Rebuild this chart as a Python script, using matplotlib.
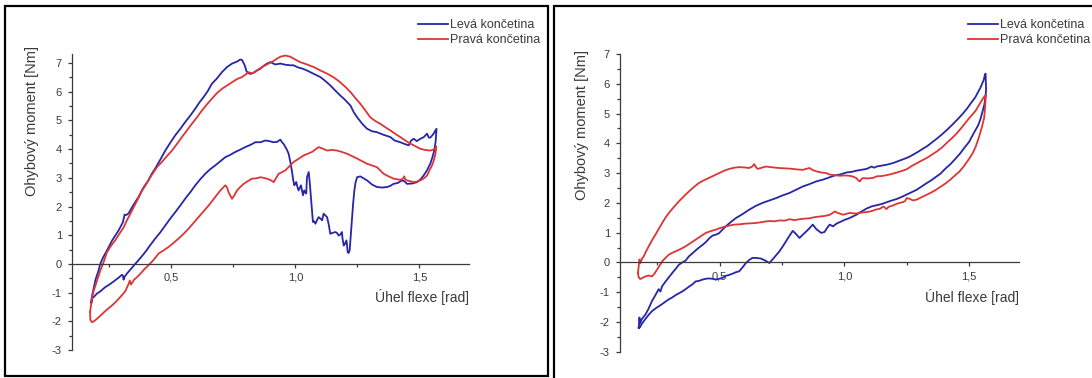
import numpy as np
import matplotlib
matplotlib.use("Agg")
import matplotlib.pyplot as plt
from matplotlib.patches import Rectangle
from matplotlib.ticker import MultipleLocator, FixedLocator, FuncFormatter

plt.rcParams["font.family"] = ["Liberation Sans", "DejaVu Sans"]
plt.rcParams["axes.unicode_minus"] = False

# ---------------------------------------------------------------------------
# Measured hysteresis loops: (flexion angle [rad], bending moment [Nm])
# ---------------------------------------------------------------------------
series_labels = ["Levá končetina", "Pravá končetina"]
x_ticks = [0.5, 1.0, 1.5]
x_minor = [0.25, 0.75, 1.25]

# Panel A - left limb
a_leva = np.array([
    [0.178, -1.35], [0.180, -1.16], [0.194, -0.57], [0.207, -0.23], [0.214, 0.00],
    [0.225, 0.22], [0.241, 0.47], [0.262, 0.82], [0.288, 1.17], [0.305, 1.45],
    [0.312, 1.72], [0.318, 1.70], [0.328, 1.76], [0.345, 2.02], [0.368, 2.33],
    [0.388, 2.66], [0.408, 2.91], [0.420, 3.12], [0.435, 3.32], [0.455, 3.62],
    [0.476, 3.95], [0.496, 4.22], [0.516, 4.48], [0.536, 4.70], [0.556, 4.94],
    [0.576, 5.16], [0.597, 5.41], [0.613, 5.62], [0.630, 5.81], [0.647, 6.02],
    [0.664, 6.28], [0.684, 6.46], [0.704, 6.68], [0.725, 6.86], [0.745, 6.98],
    [0.765, 7.05], [0.778, 7.12], [0.785, 7.11], [0.790, 7.02], [0.796, 6.92],
    [0.803, 6.72], [0.809, 6.65], [0.820, 6.62], [0.832, 6.66], [0.845, 6.74],
    [0.859, 6.80], [0.872, 6.90], [0.886, 6.98], [0.900, 7.03], [0.919, 6.95],
    [0.940, 6.98], [0.960, 6.94], [0.980, 6.92], [0.993, 6.92], [1.010, 6.85],
    [1.030, 6.80], [1.047, 6.74], [1.070, 6.64], [1.101, 6.51], [1.120, 6.38],
    [1.141, 6.22], [1.160, 6.05], [1.181, 5.87], [1.200, 5.72], [1.222, 5.52],
    [1.236, 5.28], [1.249, 5.11], [1.270, 4.88], [1.289, 4.71], [1.310, 4.62],
    [1.329, 4.59], [1.355, 4.50], [1.383, 4.42], [1.400, 4.30], [1.423, 4.24],
    [1.440, 4.18], [1.457, 4.13], [1.467, 4.30], [1.477, 4.36], [1.490, 4.28],
    [1.504, 4.36], [1.518, 4.42], [1.531, 4.54], [1.538, 4.40], [1.544, 4.40],
    [1.556, 4.52], [1.569, 4.71],
    [1.566, 4.30], [1.560, 3.95], [1.552, 3.70], [1.544, 3.49], [1.530, 3.25],
    [1.517, 3.08], [1.505, 2.95], [1.491, 2.85], [1.470, 2.80], [1.450, 2.79],
    [1.440, 2.88], [1.430, 2.91], [1.413, 2.82], [1.396, 2.79], [1.383, 2.72],
    [1.370, 2.68], [1.350, 2.66], [1.329, 2.68], [1.310, 2.76], [1.289, 2.91],
    [1.275, 2.98], [1.262, 3.05], [1.249, 3.02], [1.243, 2.85], [1.238, 2.56],
    [1.233, 2.10], [1.229, 1.63], [1.224, 1.05], [1.219, 0.47], [1.215, 0.38],
    [1.211, 0.41], [1.208, 0.70], [1.206, 0.82], [1.200, 0.70], [1.195, 0.64],
    [1.190, 0.90], [1.188, 1.11], [1.181, 1.02], [1.175, 0.99], [1.168, 1.08],
    [1.161, 1.11], [1.150, 1.08], [1.141, 1.05], [1.134, 1.40], [1.128, 1.63],
    [1.120, 1.70], [1.114, 1.75], [1.108, 1.52], [1.101, 1.58], [1.094, 1.63],
    [1.087, 1.52], [1.081, 1.40], [1.076, 1.48], [1.071, 1.46], [1.067, 1.90],
    [1.063, 2.33], [1.058, 2.85], [1.054, 3.20], [1.050, 3.10], [1.047, 3.02],
    [1.044, 2.45], [1.040, 2.50], [1.036, 2.56], [1.031, 2.39], [1.027, 2.55],
    [1.023, 2.74], [1.018, 2.65], [1.013, 2.56], [1.008, 2.70], [1.004, 2.85],
    [1.000, 2.80], [0.996, 2.74], [0.991, 2.95], [0.987, 3.20], [0.980, 3.55],
    [0.973, 3.84], [0.966, 3.98], [0.960, 4.07], [0.953, 4.18], [0.946, 4.24],
    [0.940, 4.33], [0.926, 4.25], [0.911, 4.24], [0.895, 4.28], [0.879, 4.30],
    [0.860, 4.24], [0.839, 4.24], [0.820, 4.15], [0.798, 4.07], [0.778, 3.98],
    [0.758, 3.90], [0.738, 3.80], [0.718, 3.72], [0.698, 3.58], [0.677, 3.43],
    [0.657, 3.30], [0.637, 3.14], [0.617, 2.95], [0.597, 2.74], [0.577, 2.50],
    [0.556, 2.27], [0.536, 2.03], [0.516, 1.80], [0.496, 1.58], [0.476, 1.34],
    [0.456, 1.10], [0.435, 0.88], [0.415, 0.65], [0.395, 0.41], [0.375, 0.20],
    [0.355, 0.00], [0.338, -0.17], [0.321, -0.34], [0.312, -0.45], [0.308, -0.55],
    [0.305, -0.40], [0.301, -0.38], [0.288, -0.48], [0.274, -0.57], [0.254, -0.70],
    [0.234, -0.81], [0.215, -0.95], [0.200, -1.04], [0.188, -1.15], [0.180, -1.21],
    [0.178, -1.35],
])

# Panel A - right limb
a_prava = np.array([
    [0.173, -1.68], [0.180, -1.20], [0.187, -0.95], [0.200, -0.60], [0.214, -0.23],
    [0.227, 0.05], [0.241, 0.41], [0.258, 0.64], [0.274, 0.82], [0.290, 1.04],
    [0.308, 1.27], [0.320, 1.50], [0.335, 1.74], [0.350, 2.00], [0.368, 2.30],
    [0.382, 2.55], [0.395, 2.72], [0.412, 2.97], [0.429, 3.20], [0.445, 3.40],
    [0.462, 3.55], [0.482, 3.75], [0.503, 3.95], [0.523, 4.18], [0.543, 4.42],
    [0.563, 4.65], [0.583, 4.88], [0.603, 5.10], [0.624, 5.35], [0.644, 5.56],
    [0.664, 5.76], [0.684, 5.95], [0.704, 6.10], [0.725, 6.22], [0.745, 6.33],
    [0.765, 6.44], [0.785, 6.51], [0.800, 6.60], [0.812, 6.68], [0.825, 6.64],
    [0.839, 6.70], [0.852, 6.78], [0.866, 6.86], [0.879, 6.92], [0.892, 6.98],
    [0.910, 7.06], [0.926, 7.15], [0.940, 7.22], [0.960, 7.26], [0.980, 7.22],
    [1.000, 7.12], [1.020, 7.03], [1.047, 6.95], [1.074, 6.86], [1.101, 6.74],
    [1.128, 6.63], [1.155, 6.50], [1.181, 6.33], [1.200, 6.18], [1.222, 5.99],
    [1.242, 5.78], [1.262, 5.58], [1.282, 5.35], [1.302, 5.11], [1.322, 4.98],
    [1.343, 4.88], [1.363, 4.76], [1.383, 4.65], [1.403, 4.53], [1.423, 4.42],
    [1.443, 4.30], [1.464, 4.19], [1.484, 4.10], [1.504, 4.01], [1.524, 3.97],
    [1.544, 3.95], [1.556, 3.98], [1.565, 4.01], [1.568, 4.10],
    [1.565, 3.84], [1.558, 3.60], [1.551, 3.43], [1.540, 3.25], [1.531, 3.08],
    [1.518, 2.98], [1.504, 2.91], [1.490, 2.87], [1.477, 2.85], [1.463, 2.88],
    [1.450, 2.91], [1.443, 2.95], [1.439, 3.05], [1.433, 2.96], [1.423, 2.93],
    [1.410, 2.95], [1.396, 2.97], [1.376, 3.05], [1.356, 3.14], [1.343, 3.25],
    [1.329, 3.37], [1.309, 3.43], [1.289, 3.49], [1.269, 3.58], [1.249, 3.67],
    [1.228, 3.76], [1.208, 3.84], [1.188, 3.90], [1.168, 3.95], [1.148, 3.97],
    [1.128, 3.95], [1.110, 4.02], [1.094, 4.07], [1.080, 3.98], [1.067, 3.90],
    [1.050, 3.84], [1.034, 3.78], [1.013, 3.66], [0.993, 3.55], [0.976, 3.40],
    [0.960, 3.26], [0.947, 3.20], [0.933, 3.14], [0.923, 3.00], [0.913, 2.85],
    [0.900, 2.92], [0.886, 2.97], [0.872, 3.00], [0.859, 3.02], [0.842, 2.98],
    [0.825, 2.97], [0.808, 2.88], [0.792, 2.79], [0.778, 2.68], [0.765, 2.56],
    [0.755, 2.40], [0.745, 2.27], [0.738, 2.38], [0.731, 2.50], [0.725, 2.66],
    [0.718, 2.74], [0.708, 2.65], [0.698, 2.56], [0.688, 2.45], [0.677, 2.33],
    [0.664, 2.18], [0.651, 2.04], [0.630, 1.83], [0.610, 1.63], [0.590, 1.43],
    [0.570, 1.23], [0.550, 1.05], [0.529, 0.88], [0.509, 0.73], [0.489, 0.59],
    [0.469, 0.47], [0.449, 0.36], [0.430, 0.15], [0.408, -0.05], [0.390, -0.20],
    [0.375, -0.35], [0.362, -0.46], [0.350, -0.55], [0.338, -0.72], [0.333, -0.58],
    [0.328, -0.70], [0.315, -0.95], [0.300, -1.10], [0.288, -1.22], [0.270, -1.38],
    [0.254, -1.50], [0.237, -1.62], [0.221, -1.75], [0.200, -1.92], [0.188, -2.00],
    [0.180, -2.03], [0.174, -1.95], [0.173, -1.68],
])

# Panel B - left limb
b_leva = np.array([
    [0.175, -2.20], [0.178, -1.85], [0.180, -2.05], [0.188, -1.90], [0.202, -1.75],
    [0.215, -1.55], [0.228, -1.30], [0.242, -1.10], [0.255, -0.90], [0.262, -0.98],
    [0.269, -0.80], [0.282, -0.65], [0.296, -0.50], [0.309, -0.36], [0.323, -0.22],
    [0.336, -0.08], [0.350, 0.00], [0.363, 0.06], [0.376, 0.20], [0.390, 0.30],
    [0.403, 0.40], [0.417, 0.50], [0.430, 0.58], [0.444, 0.68], [0.457, 0.80],
    [0.471, 0.90], [0.484, 0.93], [0.497, 0.98], [0.511, 1.10], [0.524, 1.21],
    [0.545, 1.36], [0.565, 1.49], [0.591, 1.62], [0.618, 1.77], [0.645, 1.90],
    [0.672, 2.00], [0.699, 2.08], [0.726, 2.16], [0.752, 2.25], [0.779, 2.33],
    [0.806, 2.44], [0.833, 2.55], [0.860, 2.63], [0.887, 2.72], [0.914, 2.78],
    [0.941, 2.86], [0.961, 2.92], [0.981, 2.95], [1.008, 3.02], [1.028, 3.04],
    [1.048, 3.08], [1.068, 3.11], [1.089, 3.14], [1.109, 3.22], [1.120, 3.18],
    [1.129, 3.22], [1.149, 3.25], [1.169, 3.28], [1.196, 3.34], [1.215, 3.40],
    [1.235, 3.46], [1.250, 3.51], [1.263, 3.56], [1.280, 3.64], [1.300, 3.74],
    [1.315, 3.82], [1.331, 3.90], [1.351, 4.03], [1.371, 4.16], [1.391, 4.30],
    [1.411, 4.45], [1.432, 4.62], [1.452, 4.79], [1.472, 4.97], [1.492, 5.17],
    [1.509, 5.37], [1.525, 5.55], [1.536, 5.72], [1.546, 5.88], [1.553, 6.02],
    [1.559, 6.14], [1.563, 6.30], [1.566, 6.34],
    [1.568, 5.80], [1.566, 5.60], [1.561, 5.30], [1.552, 5.02], [1.545, 4.80],
    [1.536, 4.60], [1.528, 4.48], [1.519, 4.35], [1.500, 4.05], [1.482, 3.86],
    [1.465, 3.67], [1.445, 3.48], [1.425, 3.30], [1.405, 3.15], [1.385, 2.98],
    [1.365, 2.86], [1.345, 2.74], [1.331, 2.67], [1.310, 2.55], [1.290, 2.44],
    [1.270, 2.36], [1.250, 2.28], [1.230, 2.20], [1.210, 2.13], [1.190, 2.08],
    [1.169, 2.02], [1.149, 1.96], [1.129, 1.92], [1.109, 1.88], [1.089, 1.81],
    [1.075, 1.74], [1.062, 1.68], [1.048, 1.60], [1.035, 1.55], [1.021, 1.49],
    [1.001, 1.43], [0.988, 1.38], [0.968, 1.30], [0.954, 1.21], [0.941, 1.27],
    [0.934, 1.20], [0.920, 1.02], [0.907, 0.99], [0.887, 1.12], [0.873, 1.27],
    [0.860, 1.15], [0.847, 1.04], [0.833, 0.93], [0.820, 0.82], [0.806, 0.95],
    [0.793, 1.06], [0.780, 0.90], [0.766, 0.71], [0.753, 0.54], [0.739, 0.37],
    [0.719, 0.17], [0.699, -0.02], [0.685, 0.05], [0.665, 0.13], [0.645, 0.15],
    [0.631, 0.15], [0.618, 0.08], [0.605, -0.02], [0.591, -0.17], [0.578, -0.30],
    [0.565, -0.33], [0.551, -0.38], [0.538, -0.42], [0.524, -0.45], [0.511, -0.52],
    [0.497, -0.55], [0.484, -0.58], [0.471, -0.55], [0.457, -0.54], [0.444, -0.55],
    [0.430, -0.58], [0.417, -0.62], [0.403, -0.64], [0.390, -0.74], [0.376, -0.82],
    [0.363, -0.90], [0.349, -0.98], [0.336, -1.04], [0.323, -1.10], [0.309, -1.18],
    [0.296, -1.24], [0.282, -1.32], [0.269, -1.40], [0.255, -1.48], [0.242, -1.55],
    [0.228, -1.64], [0.215, -1.76], [0.202, -1.90], [0.188, -2.06], [0.180, -2.18],
    [0.175, -2.20],
])

# Panel B - right limb
b_prava = np.array([
    [0.172, -0.36], [0.175, -0.13], [0.178, 0.10], [0.182, -0.02], [0.188, 0.12],
    [0.195, 0.20], [0.205, 0.38], [0.215, 0.54], [0.228, 0.74], [0.242, 0.93],
    [0.255, 1.12], [0.269, 1.32], [0.282, 1.50], [0.296, 1.66], [0.316, 1.86],
    [0.336, 2.05], [0.356, 2.22], [0.376, 2.38], [0.396, 2.53], [0.417, 2.67],
    [0.437, 2.76], [0.457, 2.84], [0.477, 2.92], [0.497, 3.00], [0.518, 3.08],
    [0.538, 3.14], [0.558, 3.18], [0.578, 3.20], [0.598, 3.19], [0.618, 3.17],
    [0.630, 3.22], [0.638, 3.30], [0.645, 3.20], [0.652, 3.14], [0.668, 3.18],
    [0.685, 3.22], [0.705, 3.20], [0.725, 3.18], [0.739, 3.17], [0.760, 3.16],
    [0.780, 3.15], [0.793, 3.14], [0.813, 3.12], [0.833, 3.11], [0.847, 3.14],
    [0.860, 3.17], [0.873, 3.10], [0.887, 3.06], [0.907, 3.02], [0.927, 3.00],
    [0.941, 2.95], [0.961, 2.93], [0.981, 2.91], [1.001, 2.92], [1.021, 2.91],
    [1.035, 2.88], [1.048, 2.83], [1.055, 2.76], [1.062, 2.72], [1.068, 2.80],
    [1.075, 2.83], [1.095, 2.82], [1.115, 2.84], [1.129, 2.89], [1.149, 2.90],
    [1.169, 2.93], [1.190, 2.97], [1.210, 3.02], [1.230, 3.07], [1.250, 3.13],
    [1.270, 3.24], [1.290, 3.33], [1.310, 3.42], [1.331, 3.51], [1.351, 3.62],
    [1.371, 3.73], [1.391, 3.86], [1.411, 4.02], [1.432, 4.18], [1.452, 4.35],
    [1.472, 4.55], [1.492, 4.76], [1.510, 4.94], [1.525, 5.08], [1.537, 5.25],
    [1.546, 5.38], [1.555, 5.50], [1.562, 5.58], [1.567, 5.62],
    [1.566, 5.47], [1.564, 5.20], [1.560, 4.85], [1.552, 4.57], [1.540, 4.22],
    [1.527, 3.90], [1.515, 3.68], [1.500, 3.48], [1.478, 3.22], [1.460, 3.04],
    [1.443, 2.92], [1.425, 2.78], [1.405, 2.65], [1.384, 2.53], [1.364, 2.42],
    [1.344, 2.33], [1.324, 2.25], [1.304, 2.17], [1.290, 2.11], [1.275, 2.08],
    [1.260, 2.14], [1.250, 2.16], [1.243, 2.06], [1.236, 2.03], [1.223, 2.00],
    [1.210, 1.97], [1.200, 1.93], [1.190, 1.90], [1.183, 1.88], [1.176, 1.86],
    [1.169, 1.79], [1.162, 1.84], [1.156, 1.88], [1.142, 1.80], [1.129, 1.78],
    [1.115, 1.74], [1.102, 1.71], [1.088, 1.69], [1.075, 1.68], [1.062, 1.66],
    [1.048, 1.64], [1.035, 1.65], [1.021, 1.66], [1.008, 1.63], [0.994, 1.60],
    [0.984, 1.63], [0.974, 1.66], [0.961, 1.71], [0.951, 1.65], [0.941, 1.60],
    [0.921, 1.56], [0.900, 1.54], [0.880, 1.52], [0.860, 1.48], [0.840, 1.47],
    [0.820, 1.45], [0.800, 1.42], [0.780, 1.45], [0.760, 1.40], [0.740, 1.41],
    [0.720, 1.38], [0.700, 1.39], [0.680, 1.37], [0.660, 1.34], [0.640, 1.32],
    [0.620, 1.31], [0.600, 1.30], [0.580, 1.28], [0.560, 1.27], [0.540, 1.24],
    [0.520, 1.20], [0.500, 1.15], [0.484, 1.10], [0.464, 1.05], [0.444, 0.99],
    [0.424, 0.88], [0.403, 0.76], [0.383, 0.65], [0.363, 0.54], [0.343, 0.45],
    [0.323, 0.37], [0.309, 0.32], [0.296, 0.26], [0.282, 0.15], [0.269, 0.03],
    [0.258, -0.12], [0.248, -0.25], [0.238, -0.38], [0.228, -0.47], [0.215, -0.44],
    [0.202, -0.47], [0.190, -0.52], [0.181, -0.56], [0.175, -0.50], [0.172, -0.36],
])

BLUE = "#2626a8"
RED = "#dc3535"
INK = "#3a3a3a"
W, H = 1092, 378

fig = plt.figure(figsize=(W / 100, H / 100), dpi=100)

# panel frames
fig.patches.append(Rectangle((5 / W, 1 - 376 / H), 543 / W, 370 / H,
                             transform=fig.transFigure, fill=False,
                             lw=1.6, ec="black"))
fig.patches.append(Rectangle((554 / W, -0.05), 0.6, 1.05 - 6 / H,
                             transform=fig.transFigure, fill=False,
                             lw=1.6, ec="black"))


def comma(v, _pos):
    return f"{v:.1f}".replace(".", ",")


def style(ax, ytop):
    ax.set_xlim(0.1, 1.7)
    ax.set_ylim(-3, ytop)
    for s in ("top", "right"):
        ax.spines[s].set_visible(False)
    ax.spines["bottom"].set_position(("data", 0))
    for s in ("left", "bottom"):
        ax.spines[s].set_color(INK)
        ax.spines[s].set_linewidth(0.9)
    ax.yaxis.set_major_locator(MultipleLocator(1))
    ax.yaxis.set_minor_locator(MultipleLocator(0.5))
    ax.xaxis.set_major_locator(FixedLocator(x_ticks))
    ax.xaxis.set_minor_locator(FixedLocator(x_minor))
    ax.xaxis.set_major_formatter(FuncFormatter(comma))
    ax.tick_params(axis="both", which="major", direction="out", length=3.2,
                   width=0.9, color=INK, labelcolor=INK, labelsize=8)
    ax.tick_params(axis="both", which="minor", direction="out", length=2.0,
                   width=0.9, color=INK)
    ax.tick_params(axis="y", which="major", pad=4.0)
    ax.tick_params(axis="x", which="major", pad=3.0)
    ax.patch.set_visible(False)


panels = [
    (a_leva, a_prava, [72, 350, 397, 54.4], 7.3, 31.7, 121, 469, 418),
    (b_leva, b_prava, [620, 351.7, 399, 54.0], 7.0, 581.7, 125, 1019, 968),
]

for leva, prava, (px, pb, pw, pt), ytop, ylx, yly, xlr, legx in panels:
    ax = fig.add_axes([px / W, 1 - pb / H, pw / W, (pb - pt) / H])
    style(ax, ytop)
    h1, = ax.plot(leva[:, 0], leva[:, 1], color=BLUE, lw=1.3)
    h2, = ax.plot(prava[:, 0], prava[:, 1], color=RED, lw=1.3)
    fig.text(ylx / W, 1 - yly / H, "Ohybový moment [Nm]", rotation=90,
             ha="center", va="center", fontsize=10.5, color=INK)
    fig.text(xlr / W, 1 - 297 / H, "Úhel flexe [rad]", ha="right",
             va="center", fontsize=10, color=INK)
    leg = ax.legend([h1, h2], series_labels, loc="upper left",
                    bbox_to_anchor=(legx / W, 1 - 19 / H),
                    bbox_transform=fig.transFigure, frameon=False,
                    fontsize=9, handlelength=2.4, handletextpad=0.2,
                    borderpad=0, borderaxespad=0, labelspacing=0.25)
    for t in leg.get_texts():
        t.set_color(INK)

fig.savefig("out.png", dpi=100)
